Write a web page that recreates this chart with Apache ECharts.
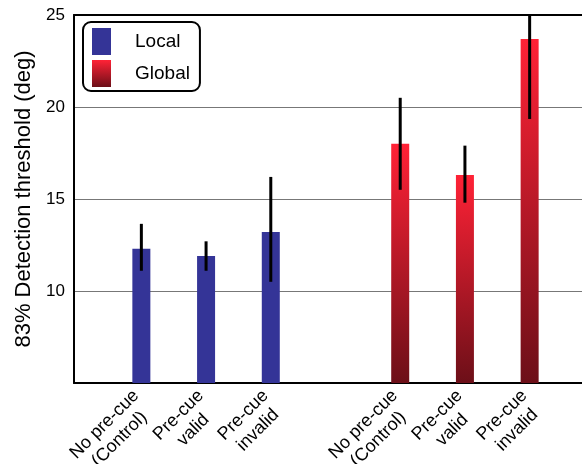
<!DOCTYPE html>
<html>
<head>
<meta charset="utf-8">
<script src="https://cdn.jsdelivr.net/npm/echarts@6/dist/echarts.min.js"></script>
<style>
html,body{margin:0;padding:0;background:#fff;}
#chart{width:582px;height:464px;}
</style>
</head>
<body>
<div id="chart"></div>
<script>
const categories = ['No pre-cue\n(Control)', 'Pre-cue\nvalid', 'Pre-cue\ninvalid', '', 'No pre-cue\n(Control)', 'Pre-cue\nvalid', 'Pre-cue\ninvalid'];
const localValues = [12.3, 11.9, 13.2, '-', '-', '-', '-'];
const globalValues = ['-', '-', '-', '-', 18.0, 16.3, 23.7];
const errLow = [11.1, 11.1, 10.5, null, 15.5, 14.8, 19.35];
const errHigh = [13.65, 12.7, 16.2, null, 20.5, 17.9, 25.0];
const yTicks = [5, 10, 15, 20, 25];

const FONT = '"Liberation Sans", Arial, Helvetica, sans-serif';
const globalGradient = new echarts.graphic.LinearGradient(0, 0, 0, 1, [
  {offset: 0, color: '#ff2236'},
  {offset: 1, color: '#6c0f18'}
]);
const localColor = '#343497';

const errData = [];
categories.forEach((c, i) => {
  if (errLow[i] != null) errData.push([i, errLow[i], errHigh[i]]);
});

const chart = echarts.init(document.getElementById('chart'));
chart.setOption({
  animation: false,
  textStyle: {fontFamily: FONT},
  grid: [
    {left: 74, right: 0, top: 15, bottom: 81, outerBoundsMode: 'none', containLabel: false},
    {left: 109, width: 453, top: 15, bottom: 81, outerBoundsMode: 'none', containLabel: false}
  ],
  legend: {
    orient: 'vertical',
    left: 83, top: 22,
    data: ['Local', 'Global'],
    icon: 'rect',
    itemWidth: 19, itemHeight: 27, itemGap: 5,
    padding: [6, 10, 4, 9],
    borderColor: '#000', borderWidth: 2, borderRadius: 8,
    textStyle: {fontSize: 19, color: '#000', padding: [0, 0, 0, 19], fontFamily: FONT}
  },
  xAxis: [
    {gridIndex: 0, type: 'value', min: 0, max: 1, position: 'bottom',
     axisLine: {show: true, lineStyle: {color: '#000', width: 2}},
     axisTick: {show: false}, axisLabel: {show: false}, splitLine: {show: false}},
    {gridIndex: 0, type: 'value', min: 0, max: 1, position: 'top',
     axisLine: {show: true, lineStyle: {color: '#000', width: 2}},
     axisTick: {show: false}, axisLabel: {show: false}, splitLine: {show: false}},
    {gridIndex: 1, type: 'category', data: categories,
     axisLine: {show: false}, axisTick: {show: false},
     axisLabel: {
       interval: 0, rotate: 45, margin: 11, color: '#000', fontSize: 18,
       fontFamily: FONT, verticalAlign: 'middle', padding: [12, 3, 0, 0],
       formatter: function (v) {
         if (!v) return '';
         return v.split('\n').map(s => '{a|' + s + '}').join('\n');
       },
       rich: {a: {align: 'center', fontSize: 18, fontFamily: FONT, color: '#000', lineHeight: 21}}
     }}
  ],
  yAxis: [
    {gridIndex: 0, type: 'value', min: yTicks[0], max: yTicks[yTicks.length - 1], interval: 5,
     name: '83% Detection threshold (deg)', nameLocation: 'middle', nameGap: 38,
     nameTextStyle: {fontSize: 22, color: '#000', fontFamily: FONT},
     axisLine: {show: true, lineStyle: {color: '#000', width: 2}},
     axisTick: {show: false},
     axisLabel: {color: '#000', fontSize: 17, margin: 9, fontFamily: FONT,
       formatter: v => (v === yTicks[0] ? '' : String(v))},
     splitLine: {show: true, lineStyle: {color: '#777', width: 1}}},
    {gridIndex: 1, type: 'value', min: yTicks[0], max: yTicks[yTicks.length - 1], startValue: 5,
     show: false, splitLine: {show: false}}
  ],
  series: [
    {name: 'Local', type: 'bar', xAxisIndex: 2, yAxisIndex: 1, data: localValues,
     barWidth: 18, barGap: '-100%', itemStyle: {color: localColor}},
    {name: 'Global', type: 'bar', xAxisIndex: 2, yAxisIndex: 1, data: globalValues,
     barWidth: 18, barGap: '-100%', itemStyle: {color: globalGradient}},
    {type: 'custom', xAxisIndex: 2, yAxisIndex: 1, data: errData, z: 10,
     renderItem: function (params, api) {
       const x = api.value(0);
       const p1 = api.coord([x, api.value(1)]);
       const p2 = api.coord([x, api.value(2)]);
       return {type: 'line', shape: {x1: p1[0], y1: p1[1], x2: p2[0], y2: p2[1]},
               style: {stroke: '#000', lineWidth: 3}};
     }}
  ]
});
</script>
</body>
</html>
